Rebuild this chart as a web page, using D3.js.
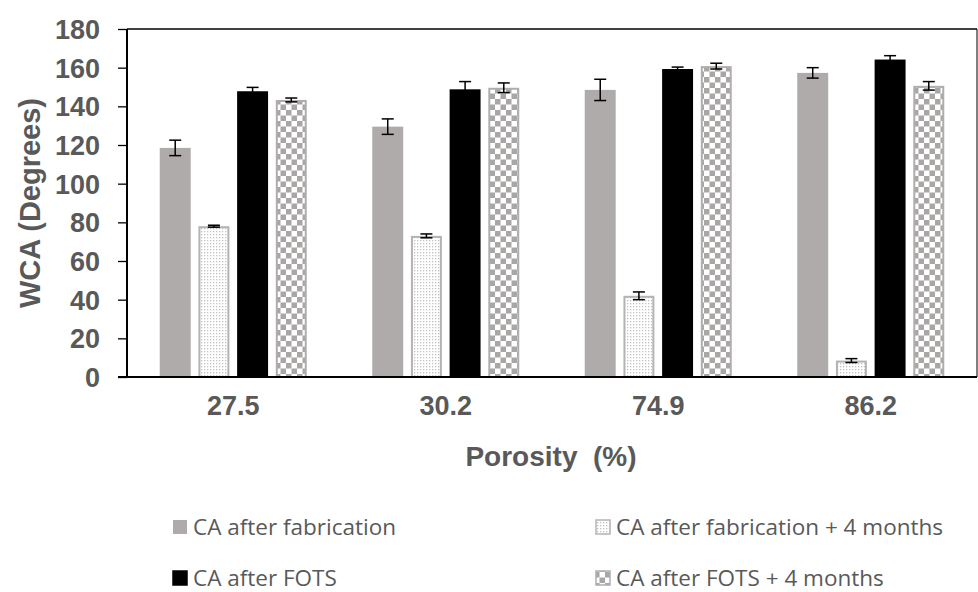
<!DOCTYPE html>
<html><head><meta charset="utf-8">
<script src="https://cdn.jsdelivr.net/npm/d3@7"></script>
<style>body{margin:0;background:#fff}</style>
</head><body>
<svg id="c" width="978" height="592"></svg>
<script>
const categories = ["27.5","30.2","74.9","86.2"];
const seriesNames = ["CA after fabrication","CA after fabrication + 4 months","CA after FOTS","CA after FOTS + 4 months"];
const fabrication = [118.5, 129.5, 148.5, 157.3];
const fabrication4m = [78, 73, 42, 8.5];
const fots = [147.8, 148.8, 159.3, 164.2];
const fots4m = [143.3, 149.6, 160.8, 150.6];
const errFabrication = [4, 4, 5.5, 2.7];
const errFabrication4m = [0.5, 1, 2, 1];
const errFots = [2, 4, 1, 2];
const errFots4m = [1, 2.5, 1.5, 2.2];
const yTicks = [0,20,40,60,80,100,120,140,160,180];

const values = [fabrication, fabrication4m, fots, fots4m];
const errors = [errFabrication, errFabrication4m, errFots, errFots4m];

const svg = d3.select("#c");
const L = 127, R = 977, T = 29, B = 377;
const defs = svg.append("defs");
// dotted pattern
const pd = defs.append("pattern").attr("id","dots").attr("patternUnits","userSpaceOnUse").attr("width",3).attr("height",3);
pd.append("rect").attr("width",3).attr("height",3).attr("fill","#ffffff");
pd.append("rect").attr("x",0).attr("y",0).attr("width",1.3).attr("height",1.3).attr("fill","#c4c1c1");
// checker pattern
const cs = 5.5;
const pc = defs.append("pattern").attr("id","check").attr("patternUnits","userSpaceOnUse").attr("width",cs*2).attr("height",cs*2);
pc.append("rect").attr("width",cs*2).attr("height",cs*2).attr("fill","#ffffff");
pc.append("rect").attr("x",0).attr("y",0).attr("width",cs).attr("height",cs).attr("fill","#a9a6a6");
pc.append("rect").attr("x",cs).attr("y",cs).attr("width",cs).attr("height",cs).attr("fill","#a9a6a6");

const fills = ["#afabab","url(#dots)","#000000","url(#check)"];
const strokes = ["none","#b5b2b2","#000000","#b0adad"];

const y = d3.scaleLinear().domain([0,180]).range([B,T]);
const x0 = d3.scaleBand().domain(categories).range([L,R]).paddingInner(0.29).paddingOuter(0.145);
const x1 = d3.scaleBand().domain(d3.range(4)).range([0,x0.bandwidth()]).paddingInner(0.2).paddingOuter(0.05);

// frame top/right
svg.append("line").attr("x1",L).attr("x2",R).attr("y1",T).attr("y2",T).attr("stroke","#000").attr("stroke-width",1.5);
svg.append("line").attr("x1",R).attr("x2",R).attr("y1",T).attr("y2",B).attr("stroke","#000").attr("stroke-width",1);

// bars
const g = svg.append("g");
categories.forEach((c,i)=>{
  values.forEach((s,j)=>{
    const bx = x0(c)+x1(j), bw = x1.bandwidth();
    const inset = strokes[j]==="none"?0:1;
    g.append("rect").attr("x",bx+inset).attr("y",y(s[i])+inset).attr("width",bw-2*inset).attr("height",B-y(s[i])-inset)
      .attr("fill",fills[j]).attr("stroke",strokes[j]).attr("stroke-width",strokes[j]==="none"?0:2);
    const e = errors[j][i], cx = bx+bw/2;
    const eg = g.append("g").attr("stroke","#000").attr("stroke-width",1.5);
    eg.append("line").attr("x1",cx).attr("x2",cx).attr("y1",y(s[i]+e)).attr("y2",y(s[i]-e));
    eg.append("line").attr("x1",cx-6).attr("x2",cx+6).attr("y1",y(s[i]+e)).attr("y2",y(s[i]+e));
    eg.append("line").attr("x1",cx-6).attr("x2",cx+6).attr("y1",y(s[i]-e)).attr("y2",y(s[i]-e));
  });
});

const AX = "Liberation Sans, Arial, sans-serif";
// y axis
const ya = svg.append("g").attr("transform",`translate(${L},0)`).call(d3.axisLeft(y).tickValues(yTicks).tickSize(9).tickPadding(18));
ya.select(".domain").attr("stroke","#000").attr("stroke-width",2).attr("d",`M-9,${B}H0V${T}`);
ya.selectAll(".tick line").attr("stroke","#000").attr("stroke-width",1.3);
ya.selectAll("text").attr("font-family",AX).attr("font-weight","bold").attr("font-size",27).attr("fill","#595959").attr("dy","0.35em");

// x axis
const xa = svg.append("g").attr("transform",`translate(0,${B})`).call(d3.axisBottom(x0).tickSize(0).tickPadding(19));
xa.select(".domain").attr("stroke","#000").attr("stroke-width",2.2).attr("d",`M${L-9},0H${R}`);
xa.selectAll("text").attr("font-family",AX).attr("font-weight","bold").attr("font-size",27).attr("fill","#595959");

// titles
svg.append("text").attr("x",(L+R)/2 - 1).attr("y",466).attr("text-anchor","middle")
  .attr("font-family",AX).attr("font-weight","bold").attr("font-size",28).attr("fill","#595959")
  .attr("xml:space","preserve").text("Porosity  (%)");
svg.append("text").attr("transform","translate(40,203) rotate(-90)").attr("text-anchor","middle")
  .attr("font-family",AX).attr("font-weight","bold").attr("font-size",29).attr("fill","#595959")
  .text("WCA (Degrees)");

// legend
const legPos = [[173,527],[596,527],[173,578],[596,578]];
const legSw = ["#afabab","url(#dots)","#000000","url(#check)"];
seriesNames.forEach((n,j)=>{
  const [lx,ly] = legPos[j];
  svg.append("rect").attr("x",lx).attr("y",ly-7).attr("width",14).attr("height",14)
    .attr("fill",legSw[j]).attr("stroke",strokes[j]==="none"?"none":strokes[j]).attr("stroke-width",1.5);
  svg.append("text").attr("x",lx+20).attr("y",ly+8).attr("font-family","Open Sans, Noto Sans, sans-serif")
    .attr("font-size",22.5).attr("fill","#595959").text(n);
});
</script>
</body></html>
